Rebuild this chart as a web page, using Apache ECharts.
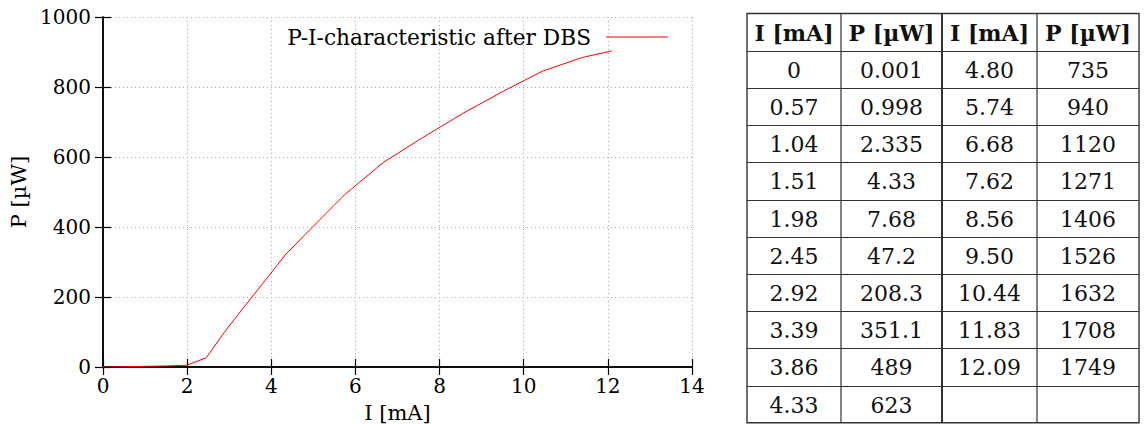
<!DOCTYPE html>
<html>
<head>
<meta charset="utf-8">
<script src="https://cdn.jsdelivr.net/npm/echarts@6/dist/echarts.min.js"></script>
<style>
  html, body { margin: 0; padding: 0; background: #fff; }
  #chart { width: 1145px; height: 424px; }
</style>
</head>
<body>
<div id="chart"></div>
<script>
// Measured P-I curve (current in mA, optical power in µW)
const curveI = [0, 0.57, 1.04, 1.51, 1.98, 2.45, 2.92, 3.39, 3.86, 4.33, 4.80, 5.74, 6.68, 7.62, 8.56, 9.50, 10.44, 11.38, 12.09];
const curveP = [0, 1, 2, 3, 5, 26, 105, 177, 248, 320, 378, 492, 586, 657, 725, 787, 845, 884, 903];

const seriesName = 'P-I-characteristic after DBS';
const xTicks = [0, 2, 4, 6, 8, 10, 12, 14];
const yTicks = [0, 200, 400, 600, 800, 1000];

// Table columns
const tableHeader = ['I [mA]', 'P [µW]', 'I [mA]', 'P [µW]'];
const tableI1 = ['0', '0.57', '1.04', '1.51', '1.98', '2.45', '2.92', '3.39', '3.86', '4.33'];
const tableP1 = ['0.001', '0.998', '2.335', '4.33', '7.68', '47.2', '208.3', '351.1', '489', '623'];
const tableI2 = ['4.80', '5.74', '6.68', '7.62', '8.56', '9.50', '10.44', '11.83', '12.09', ''];
const tableP2 = ['735', '940', '1120', '1271', '1406', '1526', '1632', '1708', '1749', ''];

const FONT = 'DejaVu Serif';
const chart = echarts.init(document.getElementById('chart'), null, { renderer: 'svg' });

// Table layout
const colEdges = [747, 841, 942, 1037, 1139];
const tableTop = 13.5;
const rowH = 37.2;
const nRows = tableI1.length + 1;

function cellText(x, y, text, bold) {
  return {
    type: 'text',
    style: {
      x: x, y: y, text: text,
      align: 'center', verticalAlign: 'middle',
      fontFamily: FONT, fontSize: 22, fontWeight: bold ? 'bold' : 'normal',
      fill: '#111'
    }
  };
}

function buildTable() {
  const els = [];
  const columns = [tableI1, tableP1, tableI2, tableP2];
  const bottom = tableTop + rowH * nRows;
  els.push({
    type: 'rect',
    shape: { x: colEdges[0], y: tableTop, width: colEdges[4] - colEdges[0], height: bottom - tableTop },
    style: { fill: '#fff', stroke: '#333', lineWidth: 1.4 }
  });
  for (let r = 1; r < nRows; r++) {
    const y = Math.round(tableTop + rowH * r) + 0.5;
    els.push({ type: 'line', shape: { x1: colEdges[0], y1: y, x2: colEdges[4], y2: y }, style: { stroke: '#333', lineWidth: 1.2 } });
  }
  for (let c = 1; c < 4; c++) {
    els.push({ type: 'line', shape: { x1: colEdges[c], y1: tableTop, x2: colEdges[c], y2: bottom }, style: { stroke: '#333', lineWidth: c === 2 ? 2 : 1.2 } });
  }
  for (let c = 0; c < 4; c++) {
    const cx = (colEdges[c] + colEdges[c + 1]) / 2;
    els.push(cellText(cx, tableTop + rowH / 2 + 1, tableHeader[c], true));
    columns[c].forEach((v, r) => {
      if (v) els.push(cellText(cx, tableTop + rowH * (r + 1.5) + 1, v, false));
    });
  }
  return els;
}

const axisLineStyle = { color: '#000', width: 1.5 };
const tickStyle = { show: true, inside: true, length: 8, lineStyle: { color: '#000', width: 1.2 } };
const gridLine = { show: true, lineStyle: { color: '#a8a8a8', width: 1, type: [1, 3] } };
const labelStyle = { fontFamily: FONT, fontSize: 20, color: '#000' };
const nameStyle = { fontFamily: FONT, fontSize: 21, color: '#000' };
const plain = v => String(v);

chart.setOption({
  animation: false,
  textStyle: { fontFamily: FONT },
  grid: { left: 103, right: 453, top: 17, bottom: 57, containLabel: false, outerBoundsMode: 'none' },
  legend: {
    data: [seriesName],
    right: 477,
    top: 26,
    padding: 0,
    align: 'right',
    icon: 'path://M0,0 L62,0 L62,1.5 L0,1.5 Z',
    itemWidth: 62,
    itemHeight: 1.5,
    itemStyle: { color: '#ff5050' },
    textStyle: { fontFamily: FONT, fontSize: 21.7, color: '#000', padding: [0, 10, 0, 0] }
  },
  xAxis: [
    {
      type: 'value', min: xTicks[0], max: xTicks[xTicks.length - 1], interval: 2,
      position: 'bottom',
      name: 'I [mA]', nameLocation: 'middle', nameGap: 35,
      nameTextStyle: nameStyle,
      axisLine: { show: true, lineStyle: axisLineStyle },
      axisTick: tickStyle,
      axisLabel: Object.assign({ margin: 9, formatter: plain }, labelStyle),
      splitLine: gridLine
    },
    {
      type: 'value', min: xTicks[0], max: xTicks[xTicks.length - 1], interval: 2,
      position: 'top',
      axisLine: { show: true, lineStyle: axisLineStyle },
      axisTick: tickStyle,
      axisLabel: { show: false },
      splitLine: { show: false }
    }
  ],
  yAxis: [
    {
      type: 'value', min: yTicks[0], max: yTicks[yTicks.length - 1], interval: 200,
      position: 'left',
      name: 'P [µW]', nameLocation: 'middle', nameGap: 69, nameRotate: 90,
      nameTextStyle: nameStyle,
      axisLine: { show: true, lineStyle: axisLineStyle },
      axisTick: tickStyle,
      axisLabel: Object.assign({ margin: 12, formatter: plain }, labelStyle),
      splitLine: gridLine
    },
    {
      type: 'value', min: yTicks[0], max: yTicks[yTicks.length - 1], interval: 200,
      position: 'right',
      axisLine: { show: true, lineStyle: axisLineStyle },
      axisTick: tickStyle,
      axisLabel: { show: false },
      splitLine: { show: false }
    }
  ],
  series: [
    {
      name: seriesName,
      type: 'line',
      xAxisIndex: 0,
      yAxisIndex: 0,
      symbol: 'none',
      lineStyle: { color: '#ff0000', width: 1 },
      itemStyle: { color: '#ff0000' },
      data: curveI.map((x, i) => [x, curveP[i]])
    }
  ],
  graphic: buildTable()
});
</script>
</body>
</html>
